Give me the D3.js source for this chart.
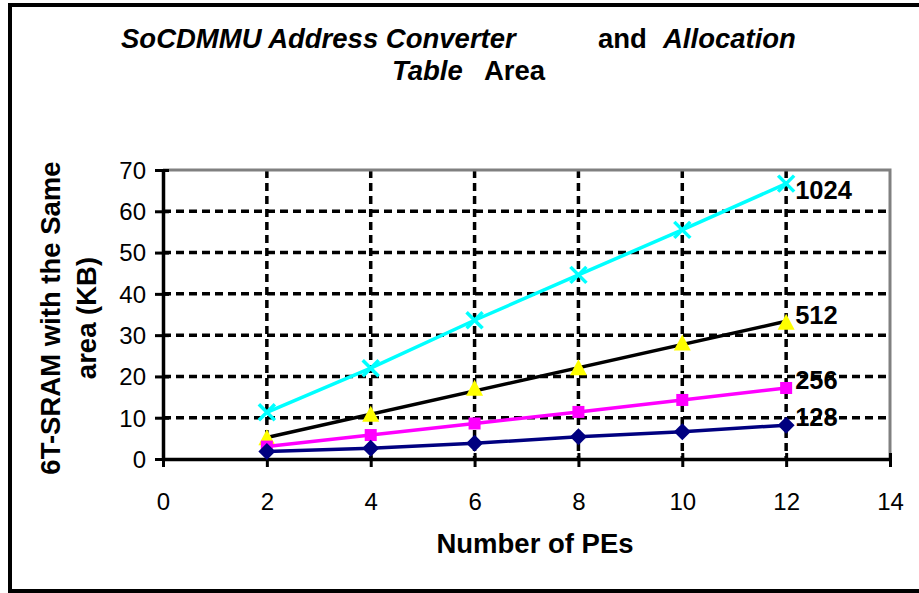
<!DOCTYPE html>
<html>
<head>
<meta charset="utf-8">
<script src="https://cdn.jsdelivr.net/npm/d3@7"></script>
<style>
  body { margin: 0; background: #fff; }
  text { font-family: "Liberation Sans", Arial, sans-serif; }
</style>
</head>
<body>
<svg id="svg1" width="919" height="593"></svg>
<script>
// values
var pes = [2, 4, 6, 8, 10, 12];
var s128 = [1.8, 2.6, 3.8, 5.4, 6.6, 8.2];
var s256 = [3.0, 5.8, 8.6, 11.4, 14.3, 17.2];
var s512 = [5.0, 10.7, 17.0, 22.0, 28.0, 33.0];
var s1024 = [11.3, 22.0, 33.6, 44.6, 55.5, 66.7];
var labels = ['128', '256', '512', '1024'];
var xTicks = [0, 2, 4, 6, 8, 10, 12, 14];
var yTicks = [0, 10, 20, 30, 40, 50, 60, 70];

var svg1 = d3.select('#svg1');
var pLeft = 163, pRight = 890, pTop = 170, pBottom = 459;

var x = d3.scaleLinear().domain([0, 14]).range([pLeft, pRight]);
var y = d3.scaleLinear().domain([0, 70]).range([pBottom, pTop]);

// outer frame
svg1.append('rect').attr('x', 10).attr('y', 5).attr('width', 930).attr('height', 586)
	.attr('fill', '#fff').attr('stroke', '#000').attr('stroke-width', 4);

// title
var title = svg1.append('text').attr('font-size', 27.5).attr('font-weight', 'bold');
title.append('tspan').attr('x', 121).attr('y', 48).attr('font-style', 'italic').text('SoCDMMU Address Converter');
title.append('tspan').attr('x', 598).attr('y', 48).text('and');
title.append('tspan').attr('x', 663).attr('y', 48).attr('font-style', 'italic').text('Allocation');
title.append('tspan').attr('x', 392).attr('y', 80).attr('font-style', 'italic').text('Table');
title.append('tspan').attr('x', 484).attr('y', 80).text('Area');

// grid
var grid = svg1.append('g').attr('stroke', '#000').attr('stroke-width', 3.5).attr('stroke-dasharray', '8,5');
grid.selectAll('line.h').data(yTicks.filter(d => d > 0 && d < 70)).enter().append('line')
	.attr('x1', pLeft).attr('x2', pRight).attr('y1', d => y(d)).attr('y2', d => y(d));
grid.selectAll('line.v').data(xTicks.filter(d => d > 0 && d < 14)).enter().append('line')
	.attr('y1', pTop).attr('y2', pBottom).attr('x1', d => x(d)).attr('x2', d => x(d));

// plot border top / right
svg1.append('path').attr('d', 'M' + pLeft + ',' + pTop + 'H' + pRight + 'V' + pBottom)
	.attr('fill', 'none').attr('stroke', '#808080').attr('stroke-width', 3);

// axes
var xAxis = svg1.append('g').attr('transform', 'translate(0,' + pBottom + ')')
	.call(d3.axisBottom(x).tickValues(xTicks).tickSize(6).tickSizeOuter(0));
var yAxis = svg1.append('g').attr('transform', 'translate(' + pLeft + ',0)')
	.call(d3.axisLeft(y).tickValues(yTicks).tickSize(6).tickSizeOuter(0));
[xAxis, yAxis].forEach(g => {
	g.select('.domain').attr('stroke', '#000').attr('stroke-width', 3.5);
	g.selectAll('.tick line').attr('stroke', '#000').attr('stroke-width', 3);
	g.selectAll('.tick text').attr('font-family', '"Liberation Sans", Arial, sans-serif')
		.attr('font-size', 24).attr('fill', '#000');
});
// cross ticks
xAxis.selectAll('.tick line').attr('y1', -6).attr('y2', 8);
yAxis.selectAll('.tick line').attr('x1', 6).attr('x2', -8);
xAxis.selectAll('.tick text').attr('y', 0).attr('dy', 51);
yAxis.selectAll('.tick text').attr('x', -17).attr('dy', '0.35em');

// axis titles
svg1.append('text').attr('x', 535).attr('y', 553).attr('text-anchor', 'middle')
	.attr('font-size', 27.5).attr('font-weight', 'bold').text('Number of PEs');
var yt = svg1.append('text').attr('transform', 'translate(60,318) rotate(-90)')
	.attr('text-anchor', 'middle').attr('font-size', 27.5).attr('font-weight', 'bold');
yt.append('tspan').attr('x', 0).attr('y', 0).text('6T-SRAM with the Same');
yt.append('tspan').attr('x', 0).attr('y', 36).text('area (KB)');

var line = d3.line().x((d, i) => x(pes[i])).y(d => y(d));

// linear trend for the 512 series
var reg = (function (xs, ys) {
	var mx = d3.mean(xs), my = d3.mean(ys);
	var b = d3.sum(xs, (v, i) => (v - mx) * (ys[i] - my)) / d3.sum(xs, v => (v - mx) * (v - mx));
	return { b: b, a: my - b * mx };
})(pes, s512);
svg1.append('line').attr('x1', x(pes[0])).attr('x2', x(pes[pes.length - 1]))
	.attr('y1', y(reg.a + reg.b * pes[0])).attr('y2', y(reg.a + reg.b * pes[pes.length - 1]))
	.attr('stroke', '#000').attr('stroke-width', 3.5);

// 1024
svg1.append('path').datum(s1024).attr('d', line).attr('fill', 'none').attr('stroke', '#00ffff').attr('stroke-width', 3.5);
svg1.selectAll('path.x1024').data(s1024).enter().append('path')
	.attr('d', (d, i) => { var cx = x(pes[i]), cy = y(d), r = 8;
		return 'M' + (cx - r) + ',' + (cy - r) + 'L' + (cx + r) + ',' + (cy + r) + 'M' + (cx - r) + ',' + (cy + r) + 'L' + (cx + r) + ',' + (cy - r); })
	.attr('stroke', '#00ffff').attr('stroke-width', 3.5);

// 512 markers
svg1.selectAll('path.t512').data(s512).enter().append('path')
	.attr('transform', (d, i) => 'translate(' + x(pes[i]) + ',' + y(d) + ')')
	.attr('d', 'M0,-9L8.5,7L-8.5,7Z').attr('fill', '#ffff00');

// 256
svg1.append('path').datum(s256).attr('d', line).attr('fill', 'none').attr('stroke', '#ff00ff').attr('stroke-width', 3.5);
svg1.selectAll('rect.s256').data(s256).enter().append('rect')
	.attr('x', (d, i) => x(pes[i]) - 6).attr('y', d => y(d) - 6).attr('width', 12).attr('height', 12)
	.attr('fill', '#ff00ff');

// 128
svg1.append('path').datum(s128).attr('d', line).attr('fill', 'none').attr('stroke', '#000080').attr('stroke-width', 3.5);
svg1.selectAll('path.d128').data(s128).enter().append('path')
	.attr('transform', (d, i) => 'translate(' + x(pes[i]) + ',' + y(d) + ')')
	.attr('d', 'M0,-8.5L8.5,0L0,8.5L-8.5,0Z').attr('fill', '#000080');

// series labels at the last point
var lastVals = [s128, s256, s512, s1024].map(s => s[s.length - 1]);
svg1.selectAll('text.lab').data(labels).enter().append('text')
	.attr('x', x(12) + 9).attr('y', (d, i) => Math.max(y(lastVals[i]) + 1, pTop + 29))
	.attr('font-size', 25.5).attr('font-weight', 'bold').text(d => d);
</script>
</body>
</html>
